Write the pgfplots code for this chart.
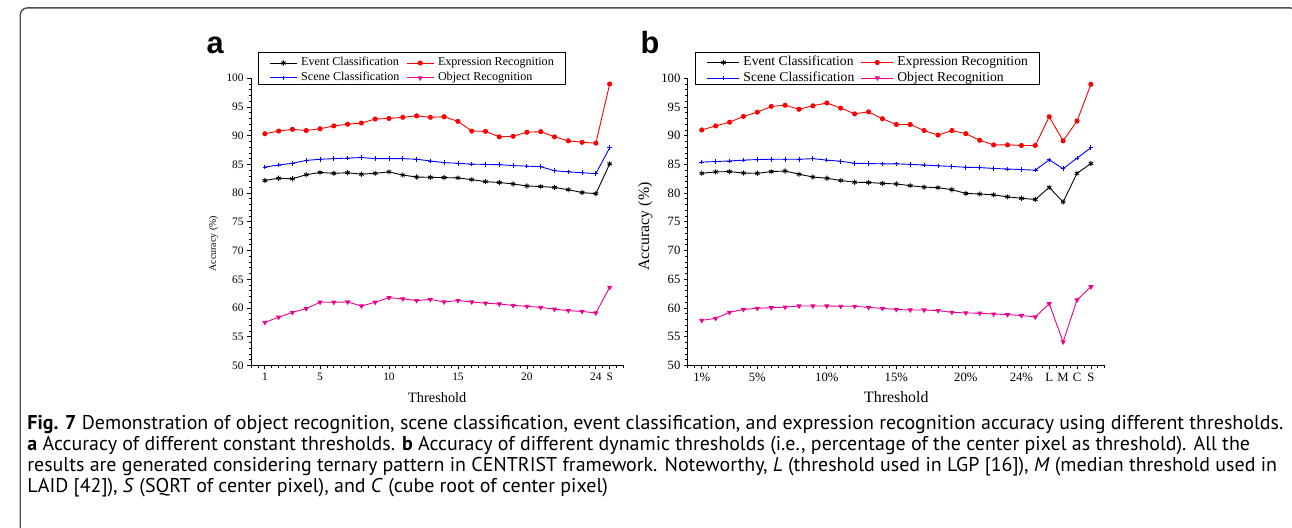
\documentclass[border=0pt]{standalone}
\usepackage{fontspec}
\setmainfont{Liberation Serif}
\newfontfamily\capfont{PT Sans}
\newfontfamily\arialfont{Liberation Sans}
\usepackage{pgfplots}
\pgfplotsset{compat=1.18}
\usepackage{graphicx}

\pgfplotsset{
  panel/.style={
    scale only axis, anchor=south west,
    ymin=50, ymax=100, xmin=0,
    axis x line*=bottom, axis y line*=left,
    ytick={50,55,...,100}, minor ytick={50,...,100},
    tick align=outside, major tick length=4pt, minor tick length=2.5pt,
    tick style={black, line width=0.8pt},
    axis line style={black, line width=1pt},
    /pgf/number format/assume math mode=true,
    legend columns=2, legend cell align=left,
  },
  ev/.style={black, line width=0.9pt, mark=asterisk, mark size=2.6pt, mark options={line width=0.9pt}},
  ex/.style={red, line width=0.9pt, mark=*, mark size=2.1pt},
  sc/.style={blue, line width=0.9pt, mark=+, mark size=2.3pt},
  ob/.style={magenta, line width=0.9pt, mark=triangle*, mark size=2.2pt, mark options={rotate=180}},
}

\newsavebox\capA
\newsavebox\capB
\newsavebox\capC
\newsavebox\capD

\begin{document}
\sbox\capA{\capfont\fontsize{15}{18}\selectfont\textbf{Fig. 7} Demonstration of object recognition, scene classification, event classification, and expression recognition accuracy using different thresholds.}
\sbox\capB{\capfont\fontsize{15}{18}\selectfont\textbf{a} Accuracy of different constant thresholds. \textbf{b} Accuracy of different dynamic thresholds (i.e., percentage of the center pixel as threshold). All the}
\sbox\capC{\capfont\fontsize{15}{18}\selectfont results are generated considering ternary pattern in CENTRIST framework. Noteworthy, \textit{L} (threshold used in LGP [16]), \textit{M} (median threshold used in}
\sbox\capD{\capfont\fontsize{15}{18}\selectfont LAID [42]), \textit{S} (SQRT of center pixel), and \textit{C} (cube root of center pixel)}
\pgfmathsetmacro\capscale{1268pt/\wd\capA}
\begin{tikzpicture}
\path[use as bounding box] (0pt,0pt) rectangle (1292pt,533pt);
\draw[black!70, line width=1.4pt, rounded corners=7pt] (8pt,-5pt) -- (8pt,525pt) -- (1297pt,525pt) -- (1297pt,-5pt);

% panel letters
\node[anchor=base west, inner sep=0, font=\arialfont\bfseries\fontsize{31}{31}\selectfont] at (196pt,479pt) {a};
\node[anchor=base west, inner sep=0, font=\arialfont\bfseries\fontsize{31}{31}\selectfont] at (634pt,479pt) {b};

% caption
\node[anchor=base west, inner sep=0] at (15pt,99pt) {\scalebox{\capscale}{\usebox\capA}};
\node[anchor=base west, inner sep=0] at (15pt,78pt) {\scalebox{\capscale}{\usebox\capB}};
\node[anchor=base west, inner sep=0] at (15pt,57pt) {\scalebox{\capscale}{\usebox\capC}};
\node[anchor=base west, inner sep=0] at (15pt,36pt) {\scalebox{\capscale}{\usebox\capD}};

% ---------------- panel a ----------------
\begin{axis}[panel, at={(241pt,164pt)}, width=376pt, height=290pt, xmax=27,
  xtick={1,5,10,15,20,25,26}, xticklabels={1,5,10,15,20,24,S},
  minor xtick={0,0.5,...,27},
  ticklabel style={font=\fontsize{11.5}{12}\selectfont},
  xlabel={Threshold}, ylabel={Accuracy (\%)},
  xlabel style={font=\fontsize{14.5}{15}\selectfont, at={(axis description cs:0.5,-0.111)}, anchor=center},
  ylabel style={font=\fontsize{10}{11}\selectfont, at={(axis description cs:-0.101,0.424)}, anchor=center},
  legend style={at={(axis description cs:0.0186,1.092)}, anchor=north west, draw=black, line width=0.8pt, fill=white,
    font=\fontsize{12.2}{13}\selectfont, inner xsep=11.3pt, inner ysep=1pt, row sep=0pt,
    nodes={inner xsep=0pt, inner ysep=2pt, text height=10.9pt, text depth=0.1pt},
    /tikz/every odd column/.append style={column sep=4pt},
    /tikz/every even column/.append style={column sep=7pt}},
  legend image code/.code={\draw[#1, mark repeat=2, mark phase=2] plot coordinates {(0pt,-2.4pt) (13.5pt,-2.4pt) (27pt,-2.4pt)};},
]
\addplot[ev] coordinates {(1,82.2)(2,82.6)(3,82.5)(4,83.2)(5,83.6)(6,83.45)(7,83.55)(8,83.3)(9,83.45)(10,83.7)(11,83.15)(12,82.8)(13,82.75)(14,82.7)(15,82.65)(16,82.35)(17,82.0)(18,81.85)(19,81.6)(20,81.25)(21,81.15)(22,81.0)(23,80.6)(24,80.1)(25,79.9)(26,85.1)};
\addlegendentry{Event Classification}
\addplot[ex] coordinates {(1,90.34)(2,90.8)(3,91.1)(4,90.9)(5,91.2)(6,91.7)(7,92.0)(8,92.2)(9,92.9)(10,93.0)(11,93.2)(12,93.45)(13,93.2)(14,93.3)(15,92.5)(16,90.8)(17,90.75)(18,89.8)(19,89.9)(20,90.6)(21,90.7)(22,89.8)(23,89.1)(24,88.85)(25,88.7)(26,99.0)};
\addlegendentry{Expression Recognition}
\addplot[sc] coordinates {(1,84.54)(2,84.9)(3,85.2)(4,85.7)(5,85.9)(6,86.0)(7,86.1)(8,86.2)(9,86.0)(10,86.0)(11,86.0)(12,85.9)(13,85.6)(14,85.3)(15,85.2)(16,85.05)(17,85.0)(18,84.95)(19,84.8)(20,84.7)(21,84.6)(22,83.9)(23,83.7)(24,83.55)(25,83.4)(26,87.9)};
\addlegendentry{Scene Classification}
\addplot[ob] coordinates {(1,57.5)(2,58.4)(3,59.25)(4,59.9)(5,61.0)(6,61.0)(7,61.05)(8,60.35)(9,61.0)(10,61.8)(11,61.6)(12,61.3)(13,61.5)(14,61.05)(15,61.3)(16,61.05)(17,60.85)(18,60.7)(19,60.45)(20,60.3)(21,60.1)(22,59.8)(23,59.55)(24,59.4)(25,59.15)(26,63.6)};
\addlegendentry{Object Recognition}
\end{axis}

% ---------------- panel b ----------------
\begin{axis}[panel, at={(682pt,164pt)}, width=421pt, height=290pt, xmax=30,
  xtick={1,5,10,15,20,24,26,27,28,29}, xticklabels={1\%,5\%,10\%,15\%,20\%,24\%,L,M,C,S},
  minor xtick={0,0.5,...,30},
  ticklabel style={font=\fontsize{12.8}{13}\selectfont},
  xlabel={Threshold}, ylabel={Accuracy (\%)},
  xlabel style={font=\fontsize{16}{16}\selectfont, at={(axis description cs:0.5,-0.111)}, anchor=center},
  ylabel style={font=\fontsize{16}{16}\selectfont, at={(axis description cs:-0.102,0.483)}, anchor=center},
  legend style={at={(axis description cs:0.0173,1.092)}, anchor=north west, draw=black, line width=0.8pt, fill=white,
    font=\fontsize{13.75}{14}\selectfont, inner xsep=11.7pt, inner ysep=0.4pt, row sep=0pt,
    nodes={inner xsep=0pt, inner ysep=1.9pt, text height=11.3pt, text depth=0.5pt},
    /tikz/every odd column/.append style={column sep=3.6pt},
    /tikz/every even column/.append style={column sep=6.7pt}},
  legend image code/.code={\draw[#1, mark repeat=2, mark phase=2] plot coordinates {(0pt,-2.2pt) (16.15pt,-2.2pt) (32.3pt,-2.2pt)};},
]
\addplot[ev] coordinates {(1,83.45)(2,83.7)(3,83.75)(4,83.5)(5,83.45)(6,83.75)(7,83.85)(8,83.3)(9,82.8)(10,82.6)(11,82.2)(12,81.9)(13,81.85)(14,81.7)(15,81.6)(16,81.3)(17,81.05)(18,80.95)(19,80.6)(20,79.95)(21,79.85)(22,79.7)(23,79.35)(24,79.1)(25,78.9)(26,81.0)(27,78.45)(28,83.45)(29,85.15)};
\addlegendentry{Event Classification}
\addplot[ex] coordinates {(1,91.0)(2,91.7)(3,92.35)(4,93.35)(5,94.1)(6,95.1)(7,95.3)(8,94.6)(9,95.2)(10,95.7)(11,94.8)(12,93.8)(13,94.15)(14,92.95)(15,91.95)(16,91.95)(17,90.9)(18,90.1)(19,90.9)(20,90.35)(21,89.2)(22,88.4)(23,88.4)(24,88.3)(25,88.3)(26,93.3)(27,89.1)(28,92.55)(29,98.95)};
\addlegendentry{Expression Recognition}
\addplot[sc] coordinates {(1,85.4)(2,85.5)(3,85.6)(4,85.75)(5,85.85)(6,85.9)(7,85.9)(8,85.9)(9,86.0)(10,85.75)(11,85.55)(12,85.2)(13,85.15)(14,85.1)(15,85.1)(16,85.0)(17,84.9)(18,84.75)(19,84.65)(20,84.5)(21,84.45)(22,84.3)(23,84.2)(24,84.1)(25,84.0)(26,85.8)(27,84.25)(28,86.1)(29,87.9)};
\addlegendentry{Scene Classification}
\addplot[ob] coordinates {(1,57.85)(2,58.2)(3,59.25)(4,59.75)(5,59.95)(6,60.05)(7,60.15)(8,60.35)(9,60.35)(10,60.35)(11,60.3)(12,60.3)(13,60.1)(14,59.95)(15,59.75)(16,59.65)(17,59.65)(18,59.55)(19,59.25)(20,59.15)(21,59.1)(22,58.95)(23,58.85)(24,58.7)(25,58.45)(26,60.75)(27,54.1)(28,61.4)(29,63.7)};
\addlegendentry{Object Recognition}
\end{axis}
\end{tikzpicture}
\end{document}
